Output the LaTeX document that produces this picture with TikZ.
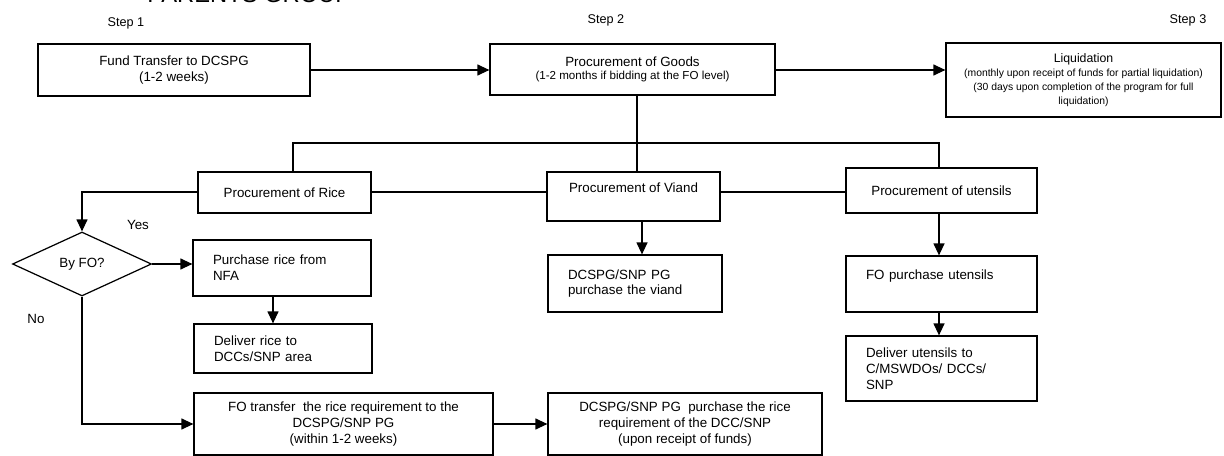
\documentclass[tikz,border=0pt]{standalone}
\usepackage{fontspec}
\setmainfont{Liberation Sans}
\usetikzlibrary{arrows.meta,shapes.geometric}
\newlength\pxu
\setlength\pxu{0.02cm}
% \boxnode{name}{x1}{y1}{x2}{y2}{options}{text}
\newcommand\boxnode[7]{%
  \node[box,#6,minimum width={(#4-#2)*\pxu},minimum height={(#5-#3)*\pxu}]
    (#1) at ({(#2+#4)/2},{(#3+#5)/2}) {#7};}
\begin{document}
\begin{tikzpicture}[x=0.02cm,y=-0.02cm,
  box/.style={draw,line width=0.7pt,inner sep=0pt,align=center,
    font=\fontsize{7.6}{9}\selectfont},
  lbox/.style={align=left},
  arr/.style={-{Triangle[length=0.24cm,width=0.22cm]},line width=0.7pt},
  ln/.style={line width=0.7pt},
  lbl/.style={inner sep=0pt,font=\fontsize{7.2}{9}\selectfont},
  sub/.style={font=\fontsize{6}{6.6}\selectfont}]
\useasboundingbox (0,0) rectangle (1224,456);
\clip (0,0) rectangle (1224,456);

% partially visible title
\node[anchor=base west,inner sep=0pt,font=\fontsize{13.5}{16}\selectfont] (title) at (147,3) {PARENTS GROUP};

% step labels
\node[lbl] (s1) at (126,23) {Step 1};
\node[lbl] (s2) at (606,20) {Step 2};
\node[lbl] (s3) at (1188,20) {Step 3};

% top row
\boxnode{fund}{38}{44}{310}{96}{}{Fund Transfer to DCSPG\\(1-2 weeks)}
\boxnode{goods}{490}{44}{775}{95}{}{Procurement of Goods\\[-1.5pt]{\fontsize{6.6}{7.5}\selectfont(1-2 months if bidding at the FO level)}}
\boxnode{liq}{946}{43}{1221}{117}{}{{\fontsize{7}{8.5}\selectfont Liquidation}\\[-1pt]
  {\fontsize{5.9}{6.6}\selectfont(monthly upon receipt of funds for partial liquidation)}\\[-1.2pt]
  {\fontsize{5.9}{6.6}\selectfont(30 days upon completion of the program for full}\\[-1.2pt]
  {\fontsize{5.9}{6.6}\selectfont liquidation)}}

% second row
\boxnode{rice}{198}{172}{371}{213}{}{Procurement of Rice}
\boxnode{viand}{547}{172}{720}{221}{}{Procurement of Viand\\[1pt]\mbox{}}
\boxnode{uten}{846}{168}{1037}{213}{}{Procurement of utensils}

% rice branch
\node[draw,line width=0.7pt,diamond,aspect=2.17,inner sep=0pt,
  minimum width={139*\pxu},minimum height={64*\pxu},
  font=\fontsize{7.6}{9}\selectfont] (dia) at (82,264) {By FO?};
\boxnode{nfa}{193}{240}{371}{296}{lbox,text width={138*\pxu}}{Purchase rice from\\NFA}
\boxnode{delrice}{194}{324}{372}{373}{lbox,text width={138*\pxu}}{Deliver rice to\\DCCs/SNP area}
\boxnode{fotr}{194}{393}{493}{455}{}{FO transfer\ \ the rice requirement to the\\DCSPG/SNP PG\\(within 1-2 weeks)}
\boxnode{dcspg}{548}{393}{822}{455}{}{DCSPG/SNP PG\ \ purchase the rice\\requirement of the DCC/SNP\\(upon receipt of funds)}

% viand branch
\boxnode{viandp}{548}{255}{722}{312}{lbox,text width={134*\pxu}}{DCSPG/SNP PG\\purchase the viand}

% utensils branch
\boxnode{utenp}{846}{256}{1037}{312}{lbox,text width={151*\pxu}}{FO purchase utensils\\[2pt]\mbox{}}
\boxnode{utend}{846}{336}{1037}{401}{lbox,text width={151*\pxu}}{Deliver utensils to\\C/MSWDOs/ DCCs/\\SNP}

% branch labels
\node[lbl,font=\fontsize{7.6}{9}\selectfont] (yes) at (138,225) {Yes};
\node[lbl,font=\fontsize{7.6}{9}\selectfont] (no) at (36,319) {No};

% helper coordinates
\coordinate (bus) at (637,143);
\coordinate (busL) at (293,143);
\coordinate (busR) at (939,143);
\coordinate (mid) at (0,192);
\coordinate (nfaarr) at (273,0);
\coordinate (vda) at (642,0);

% connectors
\draw[arr] (fund.east |- 0,70) -- (goods.west |- 0,70);
\draw[arr] (goods.east |- 0,70) -- (liq.west |- 0,70);
\draw[ln] (goods.south -| bus) -- (bus);
\draw[ln] (busL |- rice.north) -- (busL) -- (busR) -- (busR |- uten.north);
\draw[ln] (bus) -- (bus |- viand.north);
\draw[ln] (rice.east |- mid) -- (viand.west |- mid);
\draw[ln] (viand.east |- mid) -- (uten.west |- mid);
\draw[arr] (rice.west |- mid) -| (dia.north);
\draw[arr] (dia.east) -- (dia.east -| nfa.west);
\draw[arr] (nfa.south -| nfaarr) -- (delrice.north -| nfaarr);
\draw[arr] (dia.south) |- (fotr.west);
\draw[arr] (fotr.east) -- (dcspg.west);
\draw[arr] (viand.south -| vda) -- (viandp.north -| vda);
\draw[arr] (uten.south -| busR) -- (utenp.north -| busR);
\draw[arr] (utenp.south -| busR) -- (utend.north -| busR);
\end{tikzpicture}
\end{document}
